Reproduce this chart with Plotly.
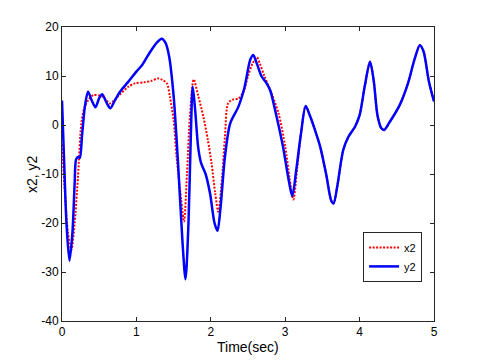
import plotly.graph_objects as go

# y2 (blue, solid)
t_y2 = [0.00, 0.03, 0.06, 0.10, 0.14, 0.17, 0.19, 0.22, 0.24, 0.27, 0.31, 0.35,
        0.40, 0.45, 0.50, 0.54, 0.60, 0.65, 0.71, 0.78, 0.89, 1.00, 1.08, 1.18,
        1.28, 1.34, 1.39, 1.44, 1.50, 1.56, 1.62, 1.66, 1.70, 1.73, 1.757, 1.79,
        1.83, 1.87, 1.93, 1.99, 2.05, 2.09, 2.13, 2.19, 2.26, 2.37, 2.45, 2.53,
        2.57, 2.62, 2.68, 2.75, 2.80, 2.88, 2.97, 3.05, 3.095, 3.15, 3.21, 3.275,
        3.33, 3.40, 3.47, 3.55, 3.62, 3.65, 3.70, 3.78, 3.85, 3.94, 4.00, 4.07,
        4.14, 4.19, 4.24, 4.29, 4.33, 4.40, 4.54, 4.65, 4.74, 4.81, 4.86, 4.93, 5.00]
y2 = [5.0, -8, -20, -27.7, -22, -12, -7, -6.5, -6.7, -2, 4, 6.8,
      5, 3.6, 5.5, 6.3, 4.5, 3.4, 5, 6.8, 8.8, 10.9, 12.3, 14.8,
      16.9, 17.6, 16.8, 14, 6, -7.8, -24, -31.5, -20, -3, 7.8, 3,
      -4.5, -7.8, -10, -14, -20, -21.6, -17, -6.5, 0.3, 3.7, 7.5, 13.3,
      14.3, 12.5, 10, 8.5, 7, 2, -4.4, -11.5, -14.5, -9, -2, 3.9,
      2, -1, -4.4, -10, -15.5, -16.0, -12.5, -5.1, -2.4, -0.3, 2, 8,
      12.9, 9, 2, -0.6, -1.0, 0.5, 4.1, 8.5, 13.5, 16.3, 15, 9, 4.8]

# x2 (red, dotted)
t_x2 = [0.00, 0.04, 0.08, 0.125, 0.17, 0.215, 0.26, 0.30, 0.35, 0.42, 0.53, 0.60,
        0.64, 0.70, 0.75, 0.89, 0.98, 1.10, 1.20, 1.29, 1.35, 1.41, 1.45, 1.50,
        1.54, 1.60, 1.64, 1.68, 1.72, 1.77, 1.83, 1.90, 1.96, 2.01, 2.06, 2.10,
        2.15, 2.19, 2.235, 2.30, 2.37, 2.44, 2.50, 2.56, 2.62, 2.66, 2.72, 2.80,
        2.91, 3.00, 3.06, 3.11, 3.16, 3.21, 3.275,
        3.33, 3.40, 3.47, 3.55, 3.62, 3.65, 3.70, 3.78, 3.85, 3.94, 4.00, 4.07,
        4.14, 4.19, 4.24, 4.29, 4.33, 4.40, 4.54, 4.65, 4.74, 4.81, 4.86, 4.93, 5.00]
x2 = [-4, -14, -22, -25.5, -20, -10.5, 0.3, 3.5, 5, 6.1, 5.9, 5,
      4.4, 5, 5.8, 7.8, 8.5, 8.7, 9, 9.5, 9.2, 8.5, 5.8, 1,
      -6.5, -15, -19.7, -10, 2, 9.3, 6, 1.7, -3, -7.8, -14, -17.7,
      -11, -2.4, 4.5, 5.2, 5.4, 6.8, 10, 12.5, 13.8, 12.5, 10, 7.1,
      2.4, -4.4, -11, -15.2, -9, -2, 3.9,
      2, -1, -4.4, -10, -15.5, -16.0, -12.5, -5.1, -2.4, -0.3, 2, 8,
      12.9, 9, 2, -0.6, -1.0, 0.5, 4.1, 8.5, 13.5, 16.3, 15, 9, 4.8]

x_ticks = [0, 1, 2, 3, 4, 5]
y_ticks = [-40, -30, -20, -10, 0, 10, 20]
y_ticktext = ["-40", "-30", "-20", "-10", "0", "10", "20"]

fig = go.Figure()
fig.add_trace(go.Scatter(x=t_x2, y=x2, name="x2", mode="lines",
                         line=dict(color="#ff0000", width=2, dash="2px,1.5px", shape="spline", smoothing=0.8)))
fig.add_trace(go.Scatter(x=t_y2, y=y2, name="y2", mode="lines",
                         line=dict(color="#0000ff", width=2.5, shape="spline", smoothing=0.8)))

axis_style = dict(showline=True, linecolor="#262626", linewidth=1, mirror="ticks",
                  ticks="inside", ticklen=4, tickcolor="#262626", showgrid=False,
                  zeroline=False, tickfont=dict(size=12, color="#000000"))

fig.update_xaxes(range=[0, 5], tickvals=x_ticks, **axis_style)
fig.update_yaxes(range=[-40, 20], tickvals=y_ticks, ticktext=y_ticktext, **axis_style)

# axis titles placed by hand (MATLAB-like spacing)
fig.add_annotation(text="Time(sec)", xref="paper", yref="paper", x=0.5, y=0,
                   xanchor="center", yanchor="middle", yshift=-26, showarrow=False,
                   font=dict(size=14, color="#000000"))
fig.add_annotation(text="x2, y2", xref="paper", yref="paper", x=0, y=0.5,
                   xanchor="center", yanchor="middle", xshift=-30, textangle=-90,
                   showarrow=False, font=dict(size=14, color="#000000"))

fig.update_layout(
    width=480, height=361,
    margin=dict(l=54, r=54, t=19, b=48),
    paper_bgcolor="white", plot_bgcolor="white",
    font=dict(family="Liberation Sans, Arial, sans-serif", color="#000000"),
    legend=dict(x=0.968, y=0.133, xanchor="right", yanchor="bottom",
                bordercolor="#262626", borderwidth=1, bgcolor="white",
                font=dict(size=11), itemwidth=30, tracegroupgap=0),
    showlegend=True,
)

fig.write_html("out.html")
